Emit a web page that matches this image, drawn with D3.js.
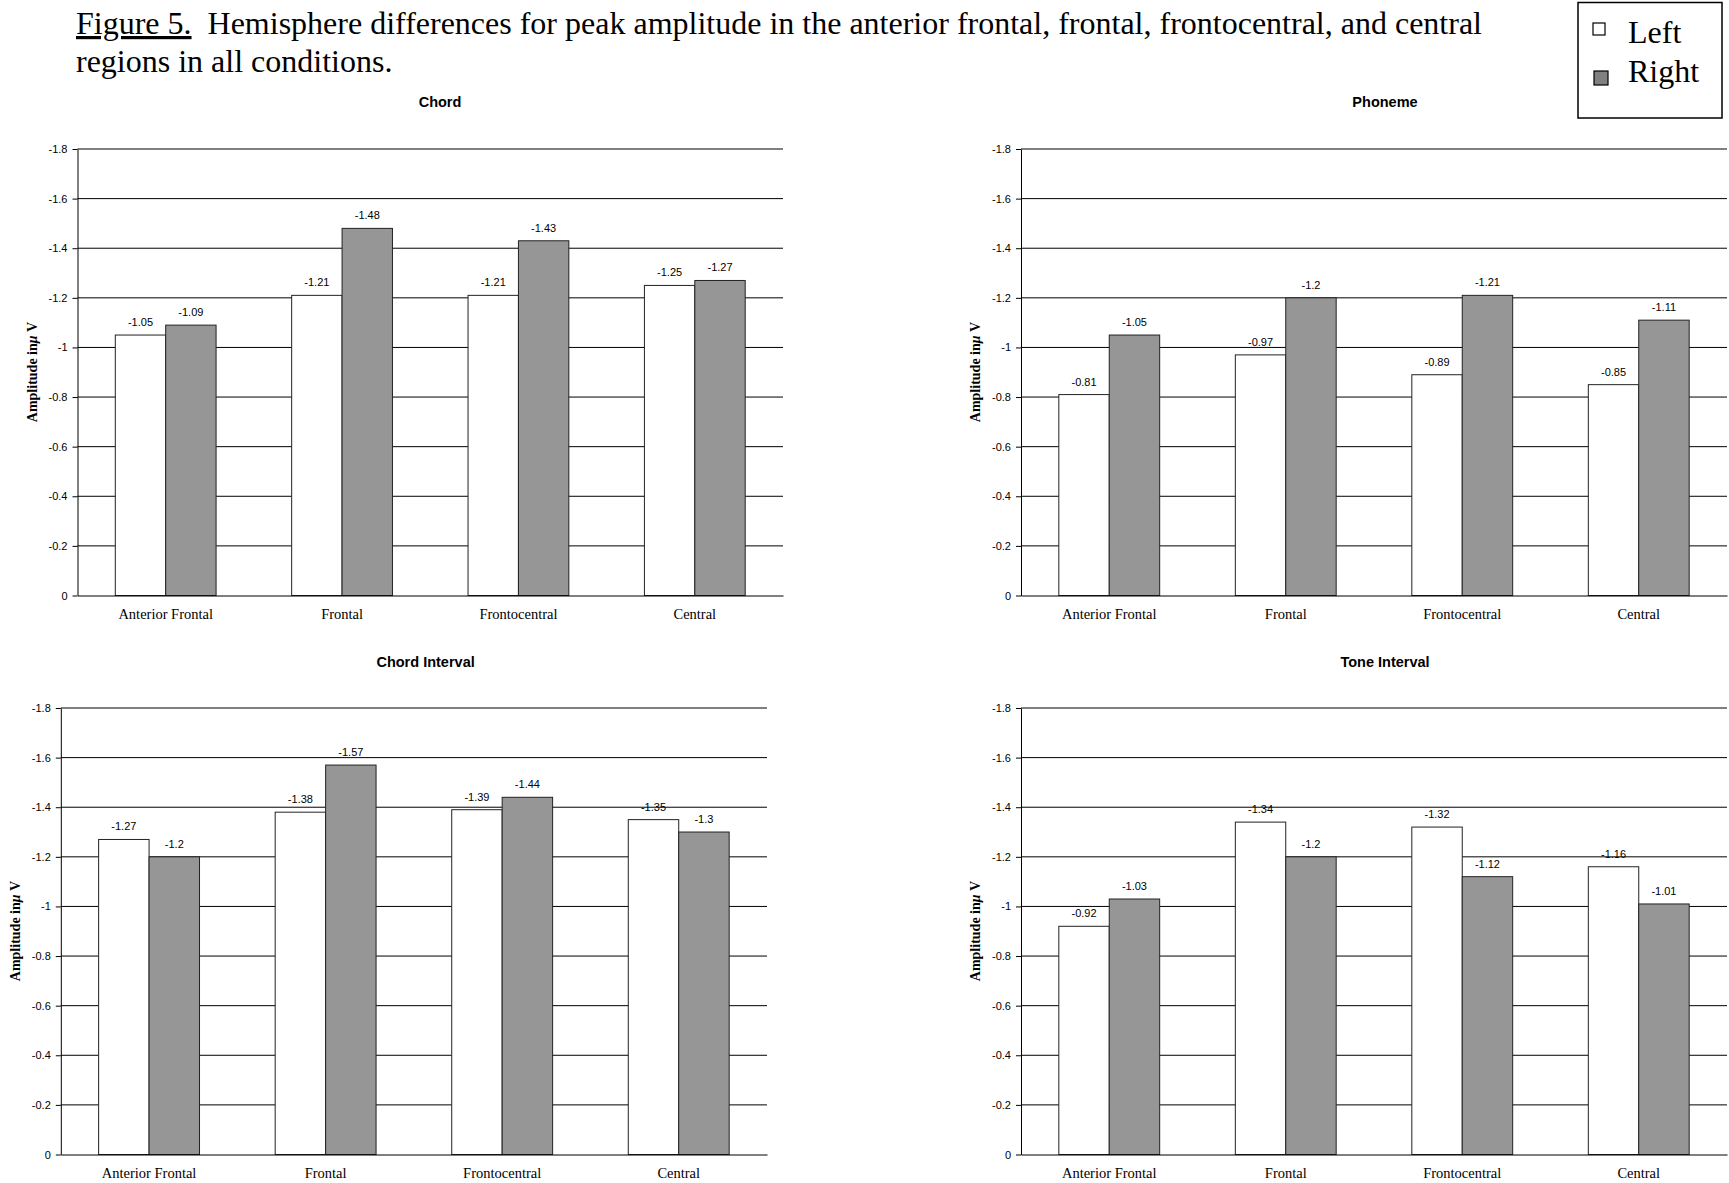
<!DOCTYPE html>
<html>
<head>
<meta charset="utf-8">
<script src="https://cdn.jsdelivr.net/npm/d3@7"></script>
<style>
  html, body { margin: 0; padding: 0; background: #fff; }
  svg { display: block; }
</style>
</head>
<body>
<svg id="fig" width="1729" height="1183"></svg>
<script>
// Regions on the category axis
const regions = ["Anterior Frontal", "Frontal", "Frontocentral", "Central"];
const hemispheres = ["Left", "Right"];

// Peak amplitude (µV) per condition, one array per hemisphere
const chordLeft = [-1.05, -1.21, -1.21, -1.25];
const chordRight = [-1.09, -1.48, -1.43, -1.27];
const phonemeLeft = [-0.81, -0.97, -0.89, -0.85];
const phonemeRight = [-1.05, -1.2, -1.21, -1.11];
const chordIntervalLeft = [-1.27, -1.38, -1.39, -1.35];
const chordIntervalRight = [-1.2, -1.57, -1.44, -1.3];
const toneIntervalLeft = [-0.92, -1.34, -1.32, -1.16];
const toneIntervalRight = [-1.03, -1.2, -1.12, -1.01];

// Value axis ticks and their printed labels
const tickValues = [-1.8, -1.6, -1.4, -1.2, -1, -0.8, -0.6, -0.4, -0.2, 0];
const tickLabels = ["-1.8", "-1.6", "-1.4", "-1.2", "-1", "-0.8", "-0.6", "-0.4", "-0.2", "0"];

const conditions = ["Chord", "Phoneme", "Chord Interval", "Tone Interval"];
const seriesByCondition = [
  [chordLeft, chordRight],
  [phonemeLeft, phonemeRight],
  [chordIntervalLeft, chordIntervalRight],
  [toneIntervalLeft, toneIntervalRight]
];

// Panel frames: plot area, title anchor and axis-title anchor
const panels = [
  { x0: 77.5, x1: 783, y0: 149, y1: 595.5, tx: 440, ty: 106.5, lx: 32, ly: 372 },
  { x0: 1021, x1: 1727, y0: 149, y1: 595.5, tx: 1385, ty: 106.5, lx: 975, ly: 372 },
  { x0: 60.8, x1: 767, y0: 708, y1: 1154.5, tx: 425.6, ty: 666.5, lx: 15.5, ly: 931 },
  { x0: 1021, x1: 1727, y0: 708, y1: 1154.5, tx: 1385, ty: 666.5, lx: 975, ly: 931 }
];

const fills = { Left: "#ffffff", Right: "#969696" };
const svg = d3.select("#fig");

// Caption
const cap = svg.append("g")
  .attr("font-family", "'Liberation Serif', 'Times New Roman', serif")
  .attr("font-size", 32)
  .attr("fill", "#000");
const line1 = cap.append("text").attr("x", 76).attr("y", 34);
line1.append("tspan").attr("text-decoration", "underline").text("Figure 5.");
line1.append("tspan").attr("xml:space", "preserve")
  .text("\u00a0\u00a0Hemisphere differences for peak amplitude in the anterior frontal, frontal, frontocentral, and central");
cap.append("text").attr("x", 76).attr("y", 71.5).text("regions in all conditions.");

// Legend
const leg = svg.append("g");
leg.append("rect").attr("x", 1578).attr("y", 2.5).attr("width", 144).attr("height", 115.5)
  .attr("fill", "#fff").attr("stroke", "#000").attr("stroke-width", 1.5);
const legItems = [
  { key: "Left", sx: 1593, sy: 23, s: 12, ty: 43 },
  { key: "Right", sx: 1594, sy: 71, s: 14, ty: 81.5 }
];
legItems.forEach(d => {
  leg.append("rect").attr("x", d.sx).attr("y", d.sy).attr("width", d.s).attr("height", d.s)
    .attr("fill", d.key === "Left" ? "#fff" : "#808080").attr("stroke", "#000").attr("stroke-width", 1.2);
  leg.append("text").attr("x", 1628).attr("y", d.ty)
    .attr("font-family", "'Liberation Serif', 'Times New Roman', serif")
    .attr("font-size", 32).text(d.key);
});

// One grouped bar chart per condition
conditions.forEach((name, i) => {
  const p = panels[i];
  const series = seriesByCondition[i];
  const g = svg.append("g");

  const y = d3.scaleLinear().domain([0, -1.8]).range([p.y1, p.y0]);
  const x = d3.scaleBand().domain(regions).range([p.x0, p.x1])
    .paddingInner(1.5 / 3.5).paddingOuter(0.75 / 3.5);
  const xs = d3.scaleBand().domain(hemispheres).range([0, x.bandwidth()]).padding(0);

  // Gridlines
  g.append("g").selectAll("line")
    .data(tickValues.filter(v => v !== 0))
    .join("line")
    .attr("x1", p.x0).attr("x2", p.x1)
    .attr("y1", d => y(d)).attr("y2", d => y(d))
    .attr("stroke", "#000").attr("stroke-width", 1);

  // Bars
  const rows = regions.map((r, k) => ({ region: r, vals: hemispheres.map((h, j) => ({ h, v: series[j][k] })) }));
  const grp = g.append("g").selectAll("g").data(rows).join("g")
    .attr("transform", d => `translate(${x(d.region)},0)`);
  grp.selectAll("rect").data(d => d.vals).join("rect")
    .attr("x", d => xs(d.h))
    .attr("y", d => y(d.v))
    .attr("width", xs.bandwidth())
    .attr("height", d => y(0) - y(d.v))
    .attr("fill", d => fills[d.h])
    .attr("stroke", "#222").attr("stroke-width", 1);

  // Value labels
  grp.selectAll("text").data(d => d.vals).join("text")
    .attr("x", d => xs(d.h) + xs.bandwidth() / 2)
    .attr("y", d => y(d.v) - 9)
    .attr("text-anchor", "middle")
    .attr("font-family", "'Liberation Sans', Arial, sans-serif")
    .attr("font-size", 11)
    .attr("fill", "#000")
    .text(d => String(d.v));

  // Value axis
  const yAxis = d3.axisLeft(y).tickValues(tickValues)
    .tickFormat((d, k) => tickLabels[k]).tickSize(5).tickSizeOuter(0).tickPadding(5);
  const ya = g.append("g").attr("transform", `translate(${p.x0},0)`).call(yAxis);
  ya.select(".domain").attr("stroke", "#000");
  ya.selectAll(".tick line").attr("stroke", "#000");
  ya.selectAll(".tick text")
    .attr("font-family", "'Liberation Sans', Arial, sans-serif")
    .attr("font-size", 11).attr("fill", "#000");

  // Category axis
  const xAxis = d3.axisBottom(x).tickSize(0).tickSizeOuter(0).tickPadding(13);
  const xa = g.append("g").attr("transform", `translate(0,${p.y1})`).call(xAxis);
  xa.select(".domain").attr("stroke", "#000").attr("stroke-width", 1.2);
  xa.selectAll(".tick text")
    .attr("font-family", "'Liberation Serif', 'Times New Roman', serif")
    .attr("font-size", 14.5).attr("fill", "#000");

  // Chart title
  g.append("text").attr("x", p.tx).attr("y", p.ty).attr("text-anchor", "middle")
    .attr("font-family", "'Liberation Sans', Arial, sans-serif")
    .attr("font-weight", "bold").attr("font-size", 14.5).text(name);

  // Axis title
  const lt = g.append("text")
    .attr("transform", `translate(${p.lx},${p.ly}) rotate(-90)`)
    .attr("text-anchor", "middle").attr("dy", "0.35em")
    .attr("font-family", "'Liberation Serif', 'Times New Roman', serif")
    .attr("font-weight", "bold").attr("font-size", 14);
  lt.append("tspan").text("Amplitude in");
  lt.append("tspan").attr("font-style", "italic").text("\u03bc");
  lt.append("tspan").text(" V");
});
</script>
</body>
</html>
